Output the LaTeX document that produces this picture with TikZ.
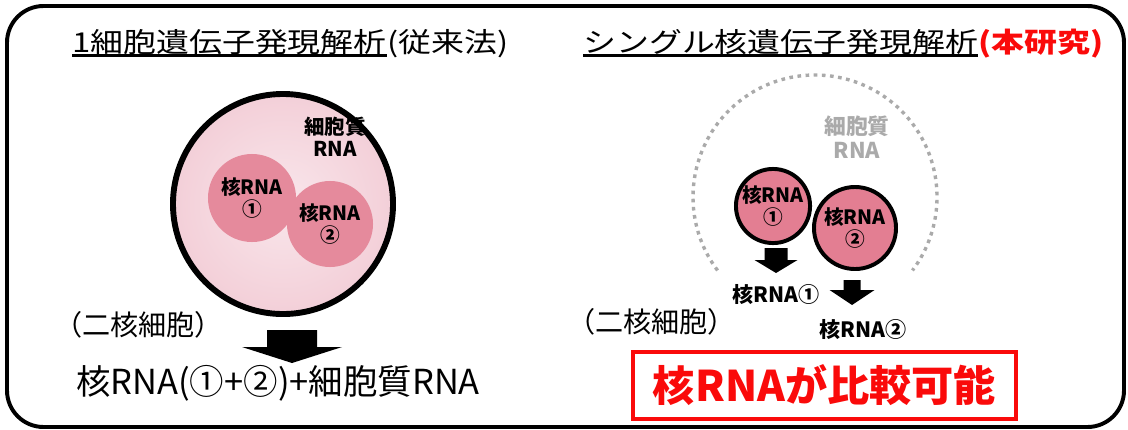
\documentclass[tikz,border=0pt]{standalone}
\usepackage{fontspec}
\setmainfont{Noto Sans CJK JP}
\newfontfamily\titlefont[FakeStretch=1.2]{Noto Sans CJK JP}
\usetikzlibrary{positioning}

\definecolor{cytopink}{RGB}{249,230,235}
\definecolor{cytorim}{RGB}{243,207,216}
\definecolor{nucpink}{RGB}{229,138,156}
\definecolor{nucred}{RGB}{227,126,146}
\definecolor{dotgray}{RGB}{170,170,170}
\definecolor{hitred}{RGB}{250,10,10}

\tikzset{
  frame/.style={line width=2.8pt, rounded corners=26pt},
  heading/.style={inner sep=0pt, anchor=base west, font=\titlefont\fontsize{19.5}{21}\selectfont},
  uline/.style={line width=1.7pt},
  cell/.style={circle, draw=black, line width=4.2pt, inner color=cytopink, outer color=cytorim, minimum size=5.5cm},
  nucsoft/.style={circle, fill=nucpink, align=center, inner sep=0pt, font=\bfseries\fontsize{14}{16}\selectfont},
  nucsharp/.style={circle, fill=nucred, draw=black, line width=2.8pt, align=center, inner sep=0pt, font=\bfseries\fontsize{14}{16}\selectfont},
  small/.style={align=center, inner sep=0pt, font=\bfseries\fontsize{14.5}{16}\selectfont},
  big/.style={inner sep=0pt, font=\fontsize{20}{22}\selectfont},
}

% block arrow pointing down: top point, shaft half width, head half width, length, head length
\newcommand{\downblock}[5]{%
  \fill[shift={(#1)}] (-#2,0) -- (#2,0) -- (#2,#4-#5) -- (#3,#4-#5) -- (0,#4)
    -- (-#3,#4-#5) -- (-#2,#4-#5) -- cycle;}

\begin{document}
\begin{tikzpicture}[x=0.025cm, y=-0.025cm]
\useasboundingbox (0,0) rectangle (1128,429);
\draw[frame] (7,6) rectangle (1124,427);

% conventional analysis
\node[heading] (tl) at (72,52) {1細胞遺伝子発現解析};
\node[heading] (tlx) at (tl.base east) {(従来法)};
\draw[uline] ([yshift=-2.5pt]tl.base west) -- ([yshift=-2.5pt]tl.base east);

\node[cell] (cell) at (283,204) {};
\node[nucsoft, minimum size=2.2cm] (na) at (252,198) {核RNA\\①};
\node[nucsoft, minimum size=2.15cm] (nb) at (330,224) {核RNA\\②};
\node[small] (cyto) at (335,137) {細胞質\\RNA};

\node[big, anchor=west] (bin) at (54,325) {（二核細胞）};
\downblock{292,330}{25}{50}{33}{16}
\node[inner sep=0pt, font=\fontsize{24.5}{26}\selectfont] (mix) at (278,383) {核RNA(①+②)+細胞質RNA};

% single nucleus analysis
\node[heading] (tr) at (583,52) {シングル核遺伝子発現解析};
\node[heading, text=hitred, font=\titlefont\bfseries\fontsize{19.5}{21}\selectfont] (trx) at (tr.base east) {(本研究)};
\draw[uline] ([yshift=-2.5pt]tr.base west) -- ([yshift=-2.5pt]tr.base east);

\coordinate (ghost) at (815,197);
\draw[dotgray, line width=2.4pt, dash pattern=on 2.6pt off 3.2pt] (ghost) ++(143:122) arc[start angle=143, end angle=397, radius=122];
\node[small, text=dotgray, font=\bfseries\fontsize{15.5}{17}\selectfont] (cyto2) at (857,137) {細胞質\\RNA};

\node[nucsharp, minimum size=1.85cm] (nc) at (773,206) {核RNA\\①};
\node[nucsharp, minimum size=2.05cm] (nd) at (855,228) {核RNA\\②};

\downblock{776,248}{11.5}{21.5}{25}{13}
\downblock{852,280}{8.5}{22.5}{25}{15}
\node[small, font=\bfseries\fontsize{15}{16}\selectfont] (outa) at (776,295) {核RNA①};
\node[small, font=\bfseries\fontsize{15}{16}\selectfont] (outb) at (863,330) {核RNA②};

\node[big, anchor=west] (bin2) at (567,322) {（二核細胞）};
\node[draw=hitred, line width=2.5pt, minimum width=9.575cm, minimum height=1.675cm, text=hitred,
  font=\bfseries\fontsize{30}{32}\selectfont] (gain) at (824.5,385.5) {核RNAが比較可能};
\end{tikzpicture}
\end{document}
